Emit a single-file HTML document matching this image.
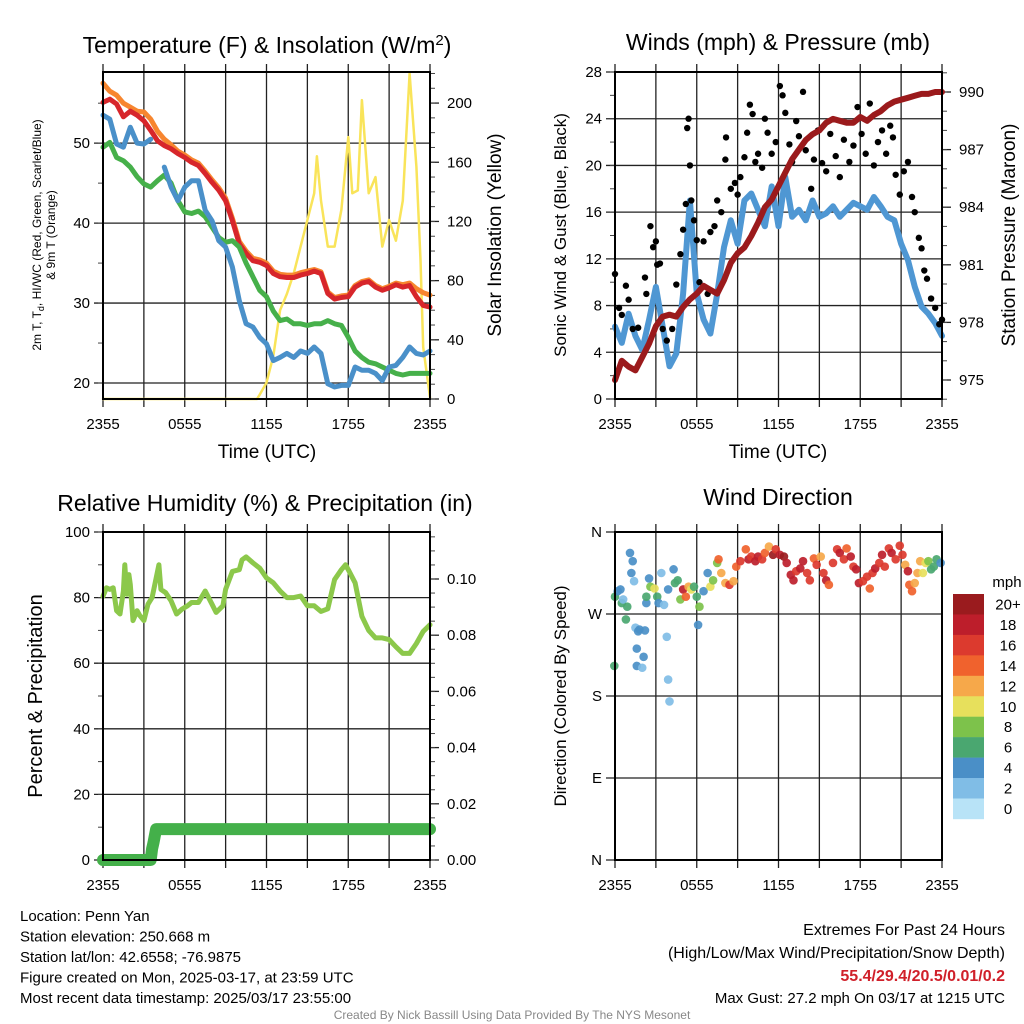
<!DOCTYPE html>
<html><head><meta charset="utf-8">
<style>
html,body{margin:0;padding:0;background:#fff;}
svg{display:block;font-family:"Liberation Sans",Arial,sans-serif;}
</style></head>
<body>
<svg id="chart" width="1024" height="1024" viewBox="0 0 1024 1024"></svg>
<script>
// ---- Temperature panel data (half-hour steps, hours 0..24) ----
const hours = [0,0.5,1,1.5,2,2.5,3,3.5,4,4.5,5,5.5,6,6.5,7,7.5,8,8.5,9,9.5,10,10.5,11,11.5,12,12.5,13,13.5,14,14.5,15,15.5,16,16.5,17,17.5,18,18.5,19,19.5,20,20.5,21,21.5,22,22.5,23,23.5,24];
const tempRed = [55.1,55.5,54.9,53.3,54,53.5,52.8,51.6,50.3,49.7,49.3,48.7,48.2,47.6,47.2,46.2,45.1,44.1,42.8,40.3,37.4,36.2,35.3,35.1,34.7,33.7,33.3,33.2,33.2,33.5,33.7,34,33.7,31.2,30.5,30.7,30.8,32,32.5,32.7,32,31.6,31.9,32.3,32,32.2,30.8,29.7,29.5];
const temp9m = [57.5,56.5,56,55,54.5,54,53.9,53,51.5,50.5,49.8,49,48.5,47.9,47.5,46.5,45.4,44.4,43.1,40.6,37.7,36.5,35.6,35.4,35,34,33.6,33.5,33.5,33.8,34,34.2,33.9,31.4,30.7,30.9,31,32.2,32.7,32.9,32.2,31.8,32.1,32.5,32.3,32.5,31.8,31.3,31];
const dewGreen = [49.5,50.1,48.2,47.8,47,45.8,44.9,44.5,45.3,46,45,42.8,41.4,41.2,41.5,40.8,39.5,38.2,37.6,37.8,37,35,33.3,31.6,30.8,29,27.8,28,27.4,27.4,27.2,27.4,27.4,27.8,27.4,27.2,25.7,24,23.2,22.6,22.4,22,21.6,21.2,21,21.2,21.2,21.2,21.2];
const chillBlue = [53.5,53,49.9,49.5,52,50,49.9,50.5,null,47,44.5,42.8,44.5,45.3,45.3,41.6,40.3,37.8,37,34.5,30.3,27.4,27,25.7,24.9,22.8,23.2,23.7,23.2,24,23.7,24.5,23.7,19.9,19.5,19.7,19.7,22,21.6,21.6,21.2,20.3,22,22.2,23.2,24.5,23.7,23.5,24];
const solarHours = [0,11.3,11.5,12,12.5,13,13.5,14,14.5,15,15.5,15.7,16,16.5,17,17.5,18,18.3,18.7,19,19.5,20,20.5,21,21.5,22,22.5,23,23.3,23.5,24];
const solarVals = [0,0,3,11,29,60,71,85,103,121,139,164,134,103,103,128,177,139,141,202,139,150,103,121,107,134,220,157,94,35,1];
// ---- Wind panel data ----
const windBlue = [6.2,4.8,7.3,5.4,4.2,6.8,9.6,6.2,2.8,3.9,9,17,9,6.8,5.6,9,13,15.3,13.3,17,17.6,16.2,14.8,18.2,14.8,19,15.6,16.2,15.3,17,15.6,15.9,16.5,15.6,16.2,16.8,16.5,16.2,17.3,16.5,15.6,15.3,13.3,11.9,9.6,7.9,7.3,6.5,5.4];
const pressure = [975,976,975.7,975.5,976.2,976.9,977.8,978.3,978.4,978.3,978.8,979.2,979.5,979.9,979.7,979.5,980.2,981.1,981.6,981.9,982.5,983.2,984,984.4,985.1,985.8,986.5,987,987.5,987.8,988,988.4,988.6,988.5,988.4,988.4,988.7,988.5,988.8,989,989.3,989.5,989.6,989.7,989.8,989.9,989.9,990,990];
const gustHours = [0,0.3,0.5,0.8,1,1.3,1.7,2.2,2.3,2.6,2.8,3,3.1,3.3,3.5,3.8,4.2,4.5,4.8,5,5.2,5.3,5.4,5.5,5.6,5.8,6,6.2,6.5,6.8,7,7.3,7.5,7.8,8.1,8.15,8.5,8.8,9,9.2,9.5,9.7,9.9,10.1,10.3,10.5,10.8,11,11.2,11.5,11.8,12.1,12.3,12.5,12.8,13,13.3,13.5,13.8,14,14.4,14.6,14.9,15.2,15.5,15.8,16.2,16.5,16.8,17.2,17.5,17.8,18.1,18.4,18.7,19,19.3,19.6,19.9,20.2,20.4,20.6,20.9,21.2,21.5,21.8,22,22.3,22.5,22.7,22.9,23.2,23.5,23.8,24];
const gustVals = [10.7,7.8,7.2,9.7,8.5,6,6.1,10.4,9,14.8,13,13.5,11.5,11.6,6,5,6,9.8,12.4,14.5,16.7,23.2,24,20,17,15.3,13.6,10,13.5,9,14.3,14.8,17,16,20.5,22.4,18,18.5,17.5,19,20.7,22.8,25.2,24.4,20.3,21,19.8,24,22.8,21,22,26.8,26,24.5,21.8,20.3,23.8,22.5,26.3,21.3,18,20.5,23,20.2,19.5,22.7,20.8,19,22.2,20.3,21.7,25,22.7,21,25.3,20,22,23,21,23.4,22.4,19.2,17.5,19.5,20.3,17.3,16,13.8,12.9,11,10.3,8.6,7.8,6.4,6.8];
// ---- RH panel data ----
const rhHours = [0,0.25,0.5,0.75,1,1.25,1.5,1.6,1.75,1.9,2,2.2,2.5,2.7,3,3.3,3.6,4.1,4.25,4.6,5,5.4,5.8,6.2,6.5,7,7.5,8,8.3,8.8,9,9.5,10,10.2,10.5,11,11.5,12,12.5,13,13.5,14,14.5,15,15.5,16,16.5,17,17.5,17.8,18,18.5,19,19.5,20,20.5,21,21.5,22,22.5,23,23.5,24];
const rhVals = [80.4,83,82.5,83,76,75,82,90,81,87,84,73,76,74.5,73,78,80,90,82.5,81.5,79,75,76.5,77.5,78.5,78.5,82,78,75.5,77.5,82.5,88,88.5,91.5,92.4,90.6,89,86,84.5,82,80,80,80.5,77.5,77.5,75.8,76.6,85.5,88.5,90,88.5,84.5,74.3,70,67.7,67.7,67.2,65,63,63,66,69.7,71.7];
const precipHours = [0,3.5,3.6,3.7,3.9,24];
const precipVals = [0,0,0.004,0.006,0.011,0.011];
// ---- Wind direction data ----
const dirHours = [0,-0.05,0.2,0.4,0.5,0.6,0.9,0.8,1.1,1.2,1.3,1.4,1.5,1.7,1.8,2.2,1.6,1.6,2,2.1,2.3,2.5,2.3,2.6,2.9,3.1,3.2,3.4,3.6,3.8,3.9,4,3.9,4.3,4.4,4.6,4.8,5,5.2,5.4,5.6,5.8,6,6.2,6.1,6.5,6.8,7,7.2,7.5,7.6,7.8,8.1,8.4,8.7,8.9,9.2,9.6,9.8,10,10.3,10.5,10.8,11,11.3,11.6,11.8,12.1,12.4,12.6,12.9,13.1,13.3,13.6,13.8,14.1,14.3,14.6,14.8,15.1,15.3,15.5,15.7,16,16.3,16.5,16.8,17,17.3,17.5,17.7,17.9,18.2,18.5,18.7,18.9,19.1,19.4,19.6,19.8,20.1,20.3,20.6,20.9,21.1,21.3,21.5,21.6,21.8,22,22.2,22.4,22.6,22.8,23,23.2,23.4,23.6,23.9];
const dirVals = [289,213,295,297,282,286,278,264,337,315,328,306,255,251,253,252,232,213,211,223,282,309,289,300,298,289,282,315,280,245,198,174,297,319,304,307,286,297,289,300,297,300,289,278,258,295,315,300,307,326,330,315,304,302,306,322,328,341,330,333,328,333,330,337,344,335,341,335,333,326,313,307,317,320,328,315,307,331,324,333,315,307,302,326,341,337,330,342,333,322,319,304,306,311,298,315,320,326,335,322,342,337,330,345,335,324,317,302,295,304,315,328,315,326,328,319,322,330,326];
const dirSpeed = [7,6,4,4,6,3,6,6,4,4,4,2,2,4,4,4,4,4,2,4,4,4,6,8,10,7,4,2,3,2,2,2,4,4,6,7,8,18,15,12,10,6,6,8,4,4,4,10,8,8,14,12,12,16,12,14,16,14,18,16,18,18,16,14,12,20,16,18,20,18,18,18,16,18,18,16,16,14,16,12,16,18,14,16,16,18,16,14,18,16,18,18,16,16,14,16,18,16,18,16,16,18,16,16,16,12,18,14,14,12,12,12,10,10,8,6,6,6,4];
const speedLabels = ['20+','18','16','14','12','10','8','6','4','2','0'];
const speedColors = ['#9a1b1e','#bd1e2b','#dc3a2e','#f0622d','#f6a84a','#e7e05c','#7dc24b','#4aa770','#4a8fc7','#80bde6','#b8e3f7'];

const NS='http://www.w3.org/2000/svg';
const svg=document.getElementById('chart');
function mk(tag,name,attrs,parent){
  const el=document.createElementNS(NS,tag);
  
  
  for(const k in attrs) el.setAttribute(k,attrs[k]);
  (parent||svg).appendChild(el);
  return el;
}
function txt(name,x,y,s,size,anchor,extra,parent){
  const t=mk('text',name,Object.assign({x:x,y:y,'font-size':size,'text-anchor':anchor||'middle',fill:'#000'},extra||{}),parent);
  t.textContent=s; return t;
}
function scale(d0,d1,r0,r1){return v=>r0+(v-d0)/(d1-d0)*(r1-r0);}

function panel(P,name){
  const g=mk('g',name,{});
  P.xs=scale(0,24,P.x0,P.x1);
  P.g=g;
  for(let h=0;h<=24;h+=3){
    const x=P.xs(h);
    mk('line','x-gridline',{x1:x,x2:x,y1:P.y0-8,y2:P.y1+8,stroke:'#222','stroke-width':1.3},g);
  }
  const xl=['2355','0555','1155','1755','2355'];
  xl.forEach((s,i)=>txt('x-tick-label',P.xs(i*6),P.y1+30,s,15,'middle',{},g));
  return g;
}
function leftAxis(P,ys,majors,labels,minors){
  majors.forEach((v,i)=>{
    const y=ys(v);
    mk('line','y-gridline',{x1:P.x0-9,x2:P.x1,y1:y,y2:y,stroke:'#222','stroke-width':1.3},P.g);
    txt('y-tick-label',P.x0-13,y+5,labels[i],15,'end',{},P.g);
  });
  minors.forEach(v=>{const y=ys(v);mk('line','y-minor-tick',{x1:P.x0-5,x2:P.x0,y1:y,y2:y,stroke:'#444','stroke-width':1},P.g);});
}
function rightAxis(P,ys,majors,labels,minors){
  majors.forEach((v,i)=>{
    const y=ys(v);
    mk('line','y2-tick',{x1:P.x1,x2:P.x1+9,y1:y,y2:y,stroke:'#222','stroke-width':1.3},P.g);
    txt('y2-tick-label',P.x1+17,y+5,labels[i],15,'start',{},P.g);
  });
  minors.forEach(v=>{const y=ys(v);mk('line','y2-minor-tick',{x1:P.x1,x2:P.x1+5,y1:y,y2:y,stroke:'#444','stroke-width':1},P.g);});
}
function frame(P){mk('rect','plot-frame',{x:P.x0,y:P.y0,width:P.x1-P.x0,height:P.y1-P.y0,fill:'none',stroke:'#000','stroke-width':2},P.g);}
function linePath(xsArr,ysArr,xs,ys){
  let d='',pen=false;
  for(let i=0;i<xsArr.length;i++){
    if(ysArr[i]==null){pen=false;continue;}
    d+=(pen?'L':'M')+xs(xsArr[i]).toFixed(1)+','+ys(ysArr[i]).toFixed(1);pen=true;
  }
  return d;
}
function range(a,b,s){const r=[];for(let v=a;v<=b+1e-9;v+=s)r.push(+v.toFixed(4));return r;}

// ===== Panel 1: Temperature =====
const P1={x0:103,x1:430,y0:72,y1:399};
panel(P1,'temperature-panel');
const t1=scale(18,58.9,P1.y1,P1.y0), s1=scale(0,221,P1.y1,P1.y0);
leftAxis(P1,t1,[20,30,40,50],['20','30','40','50'],range(20,55,5));
rightAxis(P1,s1,[0,40,80,120,160,200],['0','40','80','120','160','200'],range(0,220,10));
const lw={fill:'none','stroke-linejoin':'round','stroke-linecap':'round'};
mk('path','solar-insolation-line',Object.assign({d:linePath(solarHours,solarVals,P1.xs,s1),stroke:'#f9e45a','stroke-width':2.5},lw),P1.g);
mk('path','temperature-9m-line',Object.assign({d:linePath(hours,temp9m,P1.xs,t1),stroke:'#f7862f','stroke-width':5},lw),P1.g);
mk('path','temperature-2m-line',Object.assign({d:linePath(hours,tempRed,P1.xs,t1),stroke:'#d7262b','stroke-width':5},lw),P1.g);
mk('path','dewpoint-line',Object.assign({d:linePath(hours,dewGreen,P1.xs,t1),stroke:'#46b04a','stroke-width':5},lw),P1.g);
mk('path','wind-chill-line',Object.assign({d:linePath(hours,chillBlue,P1.xs,t1),stroke:'#4a90c9','stroke-width':5},lw),P1.g);
frame(P1);
const ti1=txt('temperature-title',267,53,'Temperature (F) & Insolation (W/m',23,'middle');
const sup=mk('tspan','title-superscript',{dy:-8,'font-size':15},ti1);sup.textContent='2';
const cl=mk('tspan','title-close',{dy:8},ti1);cl.textContent=')';
txt('x-axis-title',267,458,'Time (UTC)',19);
const ly=txt('temp-y-axis-title',0,0,'',12,'middle',{transform:'translate(41,235) rotate(-90)'});
const l1=mk('tspan','temp-y-axis-title-line1',{x:0,dy:0},ly);l1.textContent='2m T, T';
const l1s=mk('tspan','sub-d',{dy:3,'font-size':9},l1);l1s.textContent='d';
const l1b=mk('tspan','temp-y-axis-title-rest',{dy:-3},ly);l1b.textContent=', HI/WC (Red, Green, Scarlet/Blue)';
const l2=mk('tspan','temp-y-axis-title-line2',{x:0,dy:14},ly);l2.textContent='& 9m T (Orange)';
txt('solar-y-axis-title',0,0,'Solar Insolation (Yellow)',19,'middle',{transform:'translate(501,235) rotate(-90)'});

// ===== Panel 2: Winds =====
const P2={x0:615,x1:942,y0:72,y1:399};
panel(P2,'winds-panel');
const w2=scale(0,28,P2.y1,P2.y0), p2=scale(975,990,380,92);
leftAxis(P2,w2,[0,4,8,12,16,20,24,28],['0','4','8','12','16','20','24','28'],range(0,28,2));
rightAxis(P2,p2,[975,978,981,984,987,990],['975','978','981','984','987','990'],range(974,991,1));
mk('path','sonic-wind-line',Object.assign({d:linePath(hours,windBlue,P2.xs,w2),stroke:'#4f97d3','stroke-width':6},lw),P2.g);
for(let i=0;i<gustHours.length;i++){
  const c=mk('circle','gust-point',{cx:P2.xs(gustHours[i]),cy:w2(gustVals[i]),r:3.2,fill:'#000'},P2.g);
}
mk('path','pressure-line',Object.assign({d:linePath(hours,pressure,P2.xs,p2),stroke:'#9b1a1c','stroke-width':6},lw),P2.g);
frame(P2);
txt('winds-title',778,50,'Winds (mph) & Pressure (mb)',23);
txt('x-axis-title',778,458,'Time (UTC)',19);
txt('wind-y-axis-title',0,0,'Sonic Wind & Gust (Blue, Black)',17,'middle',{transform:'translate(566,235) rotate(-90)'});
txt('pressure-y-axis-title',0,0,'Station Pressure (Maroon)',19,'middle',{transform:'translate(1015,235) rotate(-90)'});

// ===== Panel 3: RH =====
const P3={x0:103,x1:430,y0:532,y1:860};
panel(P3,'humidity-panel');
const r3=scale(0,100,P3.y1,P3.y0), q3=scale(0,0.1,P3.y1,579);
leftAxis(P3,r3,[0,20,40,60,80,100],['0','20','40','60','80','100'],range(0,100,10));
rightAxis(P3,q3,[0,0.02,0.04,0.06,0.08,0.1],['0.00','0.02','0.04','0.06','0.08','0.10'],range(0,0.115,0.005));
mk('path','relative-humidity-line',Object.assign({d:linePath(rhHours,rhVals,P3.xs,r3),stroke:'#8cc84b','stroke-width':5},lw),P3.g);
mk('path','precipitation-line',Object.assign({d:linePath(precipHours,precipVals,P3.xs,q3),stroke:'#44b04a','stroke-width':12},lw),P3.g);
frame(P3);
txt('humidity-title',265,511,'Relative Humidity (%) & Precipitation (in)',23);
txt('humidity-y-axis-title',0,0,'Percent & Precipitation',20,'middle',{transform:'translate(42,696) rotate(-90)'});

// ===== Panel 4: Wind direction =====
const P4={x0:615,x1:942,y0:532,y1:860};
panel(P4,'wind-direction-panel');
const d4=scale(0,360,P4.y1,P4.y0);
leftAxis(P4,d4,[0,90,180,270,360],['N','E','S','W','N'],[]);
function colorFor(s){let idx=Math.min(10,Math.floor(s/2));return speedColors[10-idx];}
for(let i=0;i<dirHours.length;i++){
  const c=mk('circle','direction-point',{cx:P4.xs(dirHours[i]),cy:d4(dirVals[i]),r:4.3,fill:colorFor(dirSpeed[i]),'fill-opacity':0.92},P4.g);
}
frame(P4);
txt('direction-title',778,505,'Wind Direction',23);
txt('direction-y-axis-title',0,0,'Direction (Colored By Speed)',17,'middle',{transform:'translate(566,696) rotate(-90)'});
const cb=mk('g','speed-colorbar',{});
txt('colorbar-unit-label',1007,587,'mph',15,'middle',{},cb);
speedLabels.forEach((s,i)=>{
  const y=594+i*20.45;
  mk('rect','colorbar-box',{x:953,y:y,width:31,height:20.7,fill:speedColors[i]},cb);
  txt('colorbar-label',1008,y+15.5,s,15,'middle',{},cb);
});

// ===== Footer =====
const foot=['Location: Penn Yan','Station elevation: 250.668 m','Station lat/lon: 42.6558; -76.9875','Figure created on Mon, 2025-03-17, at 23:59 UTC','Most recent data timestamp: 2025/03/17 23:55:00'];
foot.forEach((s,i)=>txt('station-info-line',20,921+i*20.5,s,15,'start'));
txt('extremes-heading',1005,935,'Extremes For Past 24 Hours',16,'end');
txt('extremes-legend',1005,958,'(High/Low/Max Wind/Precipitation/Snow Depth)',16,'end');
txt('extremes-values',1005,981,'55.4/29.4/20.5/0.01/0.2',16,'end',{fill:'#d0202a','font-weight':'bold'});
txt('max-gust',1005,1003,'Max Gust: 27.2 mph On 03/17 at 1215 UTC',15,'end');
txt('credit-line',512,1019,'Created By Nick Bassill Using Data Provided By The NYS Mesonet',12,'middle',{fill:'#888'});
</script>
</body></html>
